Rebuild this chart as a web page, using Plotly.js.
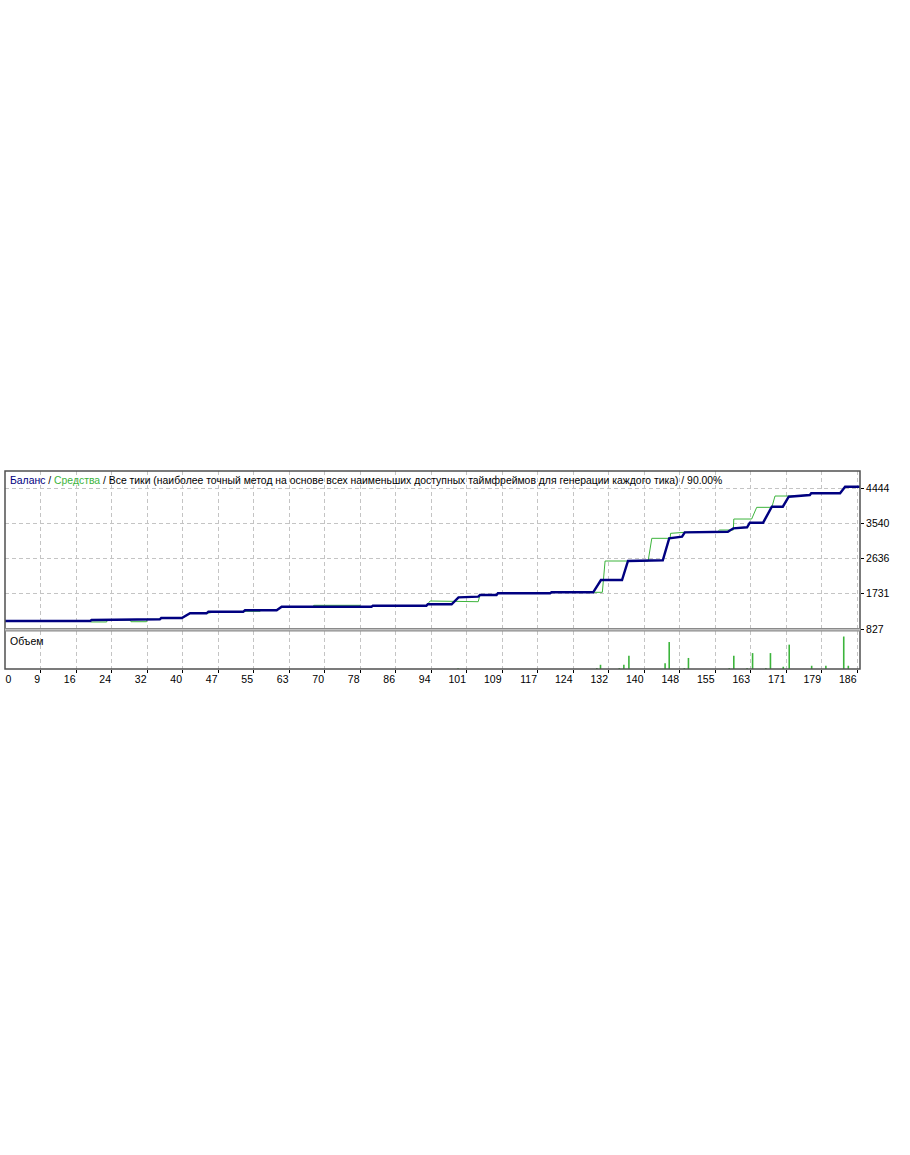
<!DOCTYPE html>
<html>
<head>
<meta charset="utf-8">
<script src="https://cdn.plot.ly/plotly-3.0.1.min.js"></script>
<style>html,body{margin:0;padding:0;background:#fff;}#chart{width:910px;height:1155px;}</style>
</head>
<body>
<div id="chart"></div>
<script>
// ---- data ----
var balanceX = [0,18.6,18.9,27.3,27.6,33.8,34.1,38.6,40.4,44.0,44.4,52.0,52.4,59.3,60.4,80.0,80.3,92.0,92.3,97.5,99.0,103.3,103.7,107.3,107.6,119.0,119.3,128.4,130.1,134.7,136.0,143.6,145.0,147.8,148.4,157.8,159.0,162.0,162.6,165.5,167.4,169.8,171.1,175.7,176.0,182.3,183.4,186.6];
var balanceY = [1032,1032,1058,1058,1076,1076,1109,1109,1230,1230,1271,1271,1307,1307,1399,1399,1425,1425,1461,1461,1640,1656,1699,1699,1743,1743,1768,1768,2084,2084,2571,2590,3153,3194,3307,3323,3410,3436,3554,3554,3964,3964,4220,4264,4308,4308,4477,4477];

var equityX = [0,18.6,18.7,22.2,22.3,27.3,27.5,30.9,31.0,33.8,34.1,38.6,40.4,44.0,45.4,49.8,49.9,52.0,52.8,55.7,55.8,59.3,60.4,67.3,67.4,77.5,77.6,80.0,80.3,92.0,92.8,98.9,99.0,103.3,103.7,107.3,107.6,119.0,119.3,130.4,131.0,140.4,141.2,145.2,145.3,148.4,155.6,156.0,159.0,159.1,163.0,164.1,167.4,168.1,171.4,175.7,176.0,182.3,183.4,186.6];
var equityY = [1032,1032,1007,1007,1058,1058,1014,1014,1076,1076,1109,1109,1230,1230,1255,1255,1271,1271,1281,1281,1307,1307,1399,1399,1435,1435,1399,1399,1425,1425,1545,1545,1527,1527,1699,1699,1743,1743,1768,1768,2571,2571,3153,3153,3281,3307,3323,3366,3366,3648,3648,3948,3948,4238,4238,4264,4308,4308,4477,4477];

var volumeX = [98.9,129.2,130.0,134.1,135.1,136.2,144.1,145.0,148.3,149.2,158.1,159.1,162.0,163.2,166.1,167.1,169.9,171.2,176.1,179.2,183.1,184.1];
var volumeY = [0.02,0.03,0.13,0.03,0.13,0.41,0.18,0.83,0.03,0.34,0.03,0.41,0.03,0.49,0.03,0.49,0.07,0.75,0.10,0.10,1.00,0.10];

var xTickLabels = ['0','9','16','24','32','40','47','55','63','70','78','86','94','101','109','117','124','132','140','148','155','163','171','179','186'];
var yTickVals = [827,1731,2636,3540,4444];

var titleParts = ['Баланс', 'Средства', 'Все тики (наиболее точный метод на основе всех наименьших доступных таймфреймов для генерации каждого тика)', '90.00%'];
var volumeLabel = 'Объем';

// ---- styling / layout ----
var W = 910, H = 1155;
function fx(x){ return x / W; }
function fy(y){ return 1 - y / H; }
var NAVY = '#000080', GREEN = '#3cb43c', GRID = '#c4c4c4';
var XMAX = 186.65;
var xStep = 186 / (xTickLabels.length - 1);
var gridVals = xTickLabels.map(function(_, i){ return i * xStep; });
var FONT = 'Liberation Sans, Arial, sans-serif';
var TICKFONT = {family:FONT, size:10.5, color:'#000'};

var traces = [
  {type:'scatter', mode:'lines', x:equityX, y:equityY, xaxis:'x', yaxis:'y',
   line:{color:GREEN, width:1}, hoverinfo:'skip'},
  {type:'scatter', mode:'lines', x:balanceX, y:balanceY, xaxis:'x', yaxis:'y',
   line:{color:NAVY, width:2.4}, hoverinfo:'skip'},
  {type:'bar', x:volumeX, y:volumeY, xaxis:'x2', yaxis:'y2', width:0.35,
   marker:{color:GREEN, line:{width:0}}, hoverinfo:'skip'},
  {type:'scatter', mode:'none', x:[0], y:[0], xaxis:'x3', yaxis:'y2', hoverinfo:'skip'}
];

var xdom = [fx(5), fx(860)];
var layout = {
  width: W, height: H,
  margin:{l:0, r:0, t:0, b:0},
  paper_bgcolor:'#ffffff', plot_bgcolor:'#ffffff',
  showlegend:false,
  font:{family:FONT, size:10.5, color:'#000'},
  xaxis:{domain:xdom, range:[0, XMAX], anchor:'y', tickmode:'array', tickvals:gridVals,
         showticklabels:false, ticks:'', showgrid:true, gridcolor:GRID, griddash:'4px,3px',
         gridwidth:1, zeroline:false, showline:false, fixedrange:true},
  yaxis:{domain:[fy(629), fy(471)], range:[827, 4880], anchor:'x', side:'right',
         tickmode:'array', tickvals:yTickVals, ticktext:yTickVals.map(String),
         ticks:'outside', ticklen:3, tickcolor:'#000', tickfont:TICKFONT,
         showgrid:true, gridcolor:GRID, griddash:'4px,3px', zeroline:false, showline:false, fixedrange:true},
  xaxis2:{domain:xdom, range:[0, XMAX], anchor:'y2', tickmode:'array',
          tickvals:gridVals.slice(1), ticktext:xTickLabels.slice(1),
          ticklabelposition:'outside left', ticks:'outside', ticklen:3, tickcolor:'#000',
          tickfont:TICKFONT,
          showgrid:true, gridcolor:GRID, griddash:'4px,3px', zeroline:false, showline:false, fixedrange:true},
  xaxis3:{overlaying:'x2', anchor:'y2', range:[0, XMAX], tickmode:'array',
          tickvals:[0], ticktext:[xTickLabels[0]], ticklabelposition:'outside right',
          ticks:'outside', ticklen:3, tickcolor:'rgba(0,0,0,0)',
          tickfont:TICKFONT, showgrid:false, zeroline:false, showline:false, fixedrange:true},
  yaxis2:{domain:[fy(669), fy(631)], range:[0, 1.17], anchor:'x2', showticklabels:false,
          showgrid:false, zeroline:false, showline:false, ticks:'', fixedrange:true},
  shapes:[
    {type:'rect', xref:'paper', yref:'paper', x0:fx(5), x1:fx(860), y0:fy(669), y1:fy(471),
     line:{color:'#505050', width:1.5}, fillcolor:'rgba(0,0,0,0)', layer:'above'},
    {type:'rect', xref:'paper', yref:'paper', x0:fx(5), x1:fx(860), y0:fy(631.5), y1:fy(628),
     line:{width:0}, fillcolor:'#8a8a8a', layer:'above'},
    {type:'line', xref:'paper', yref:'paper', x0:fx(5), x1:fx(860), y0:fy(629.8), y1:fy(629.8),
     line:{color:'#d8d8d8', width:1}, layer:'above'}
  ],
  annotations:[
    {xref:'paper', yref:'paper', x:fx(8), y:fy(481), xanchor:'left', yanchor:'middle', showarrow:false,
     font:{family:FONT, size:10.4, color:'#000'},
     text:'<span style="color:' + NAVY + '">' + titleParts[0] + '</span> / <span style="color:' + GREEN + '">' +
          titleParts[1] + '</span> / ' + titleParts[2] + ' / ' + titleParts[3]},
    {xref:'paper', yref:'paper', x:fx(8), y:fy(641), xanchor:'left', yanchor:'middle', showarrow:false,
     font:{family:FONT, size:10.5, color:'#000'}, text:volumeLabel}
  ]
};

Plotly.newPlot('chart', traces, layout, {staticPlot:true, displayModeBar:false});
</script>
</body>
</html>
